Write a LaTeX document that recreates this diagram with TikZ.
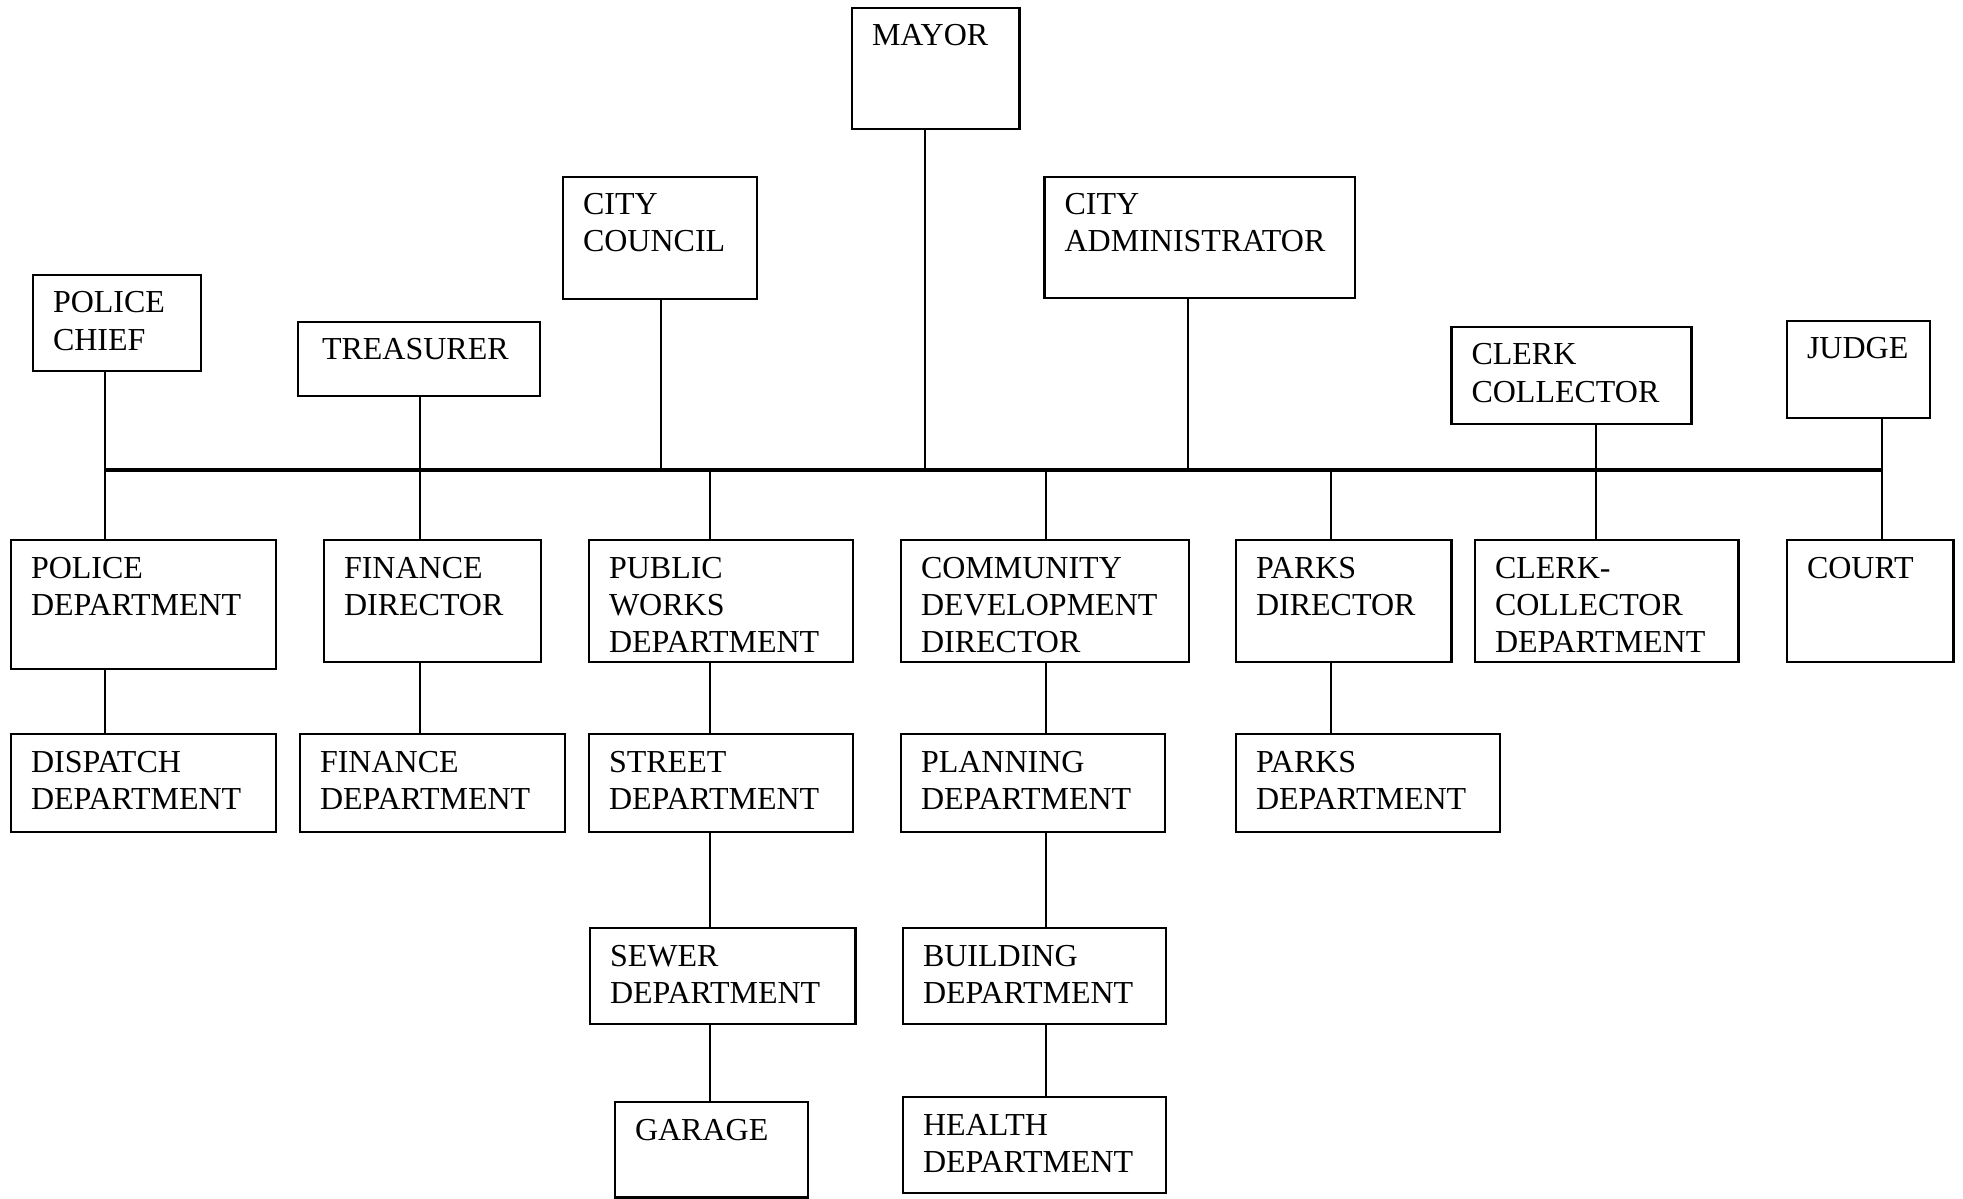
\documentclass[tikz,border=0pt]{standalone}
\usepackage{fontspec}
\setmainfont{Liberation Serif}
\newdimen\pxu \pxu=0.5bp
\tikzset{
  orgbox/.style={draw, line width=1.4bp, anchor=north west, inner xsep=10bp, inner ysep=0pt, outer sep=0pt,
    font=\fontsize{16bp}{18.5bp}\selectfont},
  link/.style={line width=0.9bp},
  busline/.style={line width=1.7bp}
}
% name, left, top, width, height (pixels), text
\newcommand{\obox}[6]{\node[orgbox] (#1) at (#2,#3) {\parbox[c][#5\pxu][t]{\dimexpr#4\pxu-20bp\relax}{\raggedright\rule{0pt}{19bp}#6}};}
\begin{document}
\begin{tikzpicture}[x=0.5bp, y=-0.5bp]
\useasboundingbox (0,0) rectangle (1963,1199);

\obox{mayor}{852}{8}{167.5}{121}{MAYOR}
\obox{council}{563}{177}{194}{122}{CITY\\COUNCIL}
\obox{admin}{1044.6}{177}{310.4}{121}{CITY\\ADMINISTRATOR}
\obox{pchief}{33}{275}{168}{96}{POLICE\\CHIEF}
\obox{treas}{298}{322}{242}{74}{\hspace{2bp}TREASURER}
\obox{clerkc}{1451.5}{327}{240}{97}{CLERK\\COLLECTOR}
\obox{judge}{1787}{321}{143}{97}{JUDGE}

\obox{poldept}{11}{540}{265}{129}{POLICE\\DEPARTMENT}
\obox{findir}{324}{540}{217}{122}{FINANCE\\DIRECTOR}
\obox{pubworks}{589}{540}{264}{122}{PUBLIC\\WORKS\\DEPARTMENT}
\obox{commdev}{901}{540}{288}{122}{COMMUNITY\\DEVELOPMENT\\DIRECTOR}
\obox{parksdir}{1236}{540}{215.5}{122}{PARKS\\DIRECTOR}
\obox{clerkdept}{1475}{540}{263.6}{122}{CLERK-\\COLLECTOR\\DEPARTMENT}
\obox{court}{1787}{540}{166.7}{122}{COURT}

\obox{dispatch}{11}{734}{265}{98}{DISPATCH\\DEPARTMENT}
\obox{findept}{300}{734}{265}{98}{FINANCE\\DEPARTMENT}
\obox{street}{589}{734}{264}{98}{STREET\\DEPARTMENT}
\obox{planning}{901}{734}{264}{98}{PLANNING\\DEPARTMENT}
\obox{parksdept}{1236}{734}{264}{98}{PARKS\\DEPARTMENT}

\obox{sewer}{590}{928}{265.6}{96}{SEWER\\DEPARTMENT}
\obox{building}{903}{928}{263}{96}{BUILDING\\DEPARTMENT}
\obox{garage}{615}{1102}{193}{95.5}{GARAGE}
\obox{health}{903}{1097}{263}{96}{HEALTH\\DEPARTMENT}

\coordinate (xpol) at (105,0);
\coordinate (xfin) at (420,0);
\coordinate (xcou) at (661,0);
\coordinate (xmay) at (925,0);
\coordinate (xpw) at (710,0);
\coordinate (xcd) at (1046,0);
\coordinate (xadm) at (1188,0);
\coordinate (xpk) at (1331,0);
\coordinate (xclk) at (1596,0);
\coordinate (xjud) at (1882,0);
\coordinate (busL) at (105,470);
\coordinate (busR) at (1882,470);

\draw[busline] (busL) -- (busR);

\draw[link] (pchief.south -| xpol) -- (poldept.north -| xpol);
\draw[link] (poldept.south -| xpol) -- (dispatch.north -| xpol);
\draw[link] (treas.south -| xfin) -- (findir.north -| xfin);
\draw[link] (findir.south -| xfin) -- (findept.north -| xfin);
\draw[link] (council.south -| xcou) -- (busL -| xcou);
\draw[link] (mayor.south -| xmay) -- (busL -| xmay);
\draw[link] (admin.south -| xadm) -- (busL -| xadm);
\draw[link] (busL -| xpw) -- (pubworks.north -| xpw);
\draw[link] (pubworks.south -| xpw) -- (street.north -| xpw);
\draw[link] (street.south -| xpw) -- (sewer.north -| xpw);
\draw[link] (sewer.south -| xpw) -- (garage.north -| xpw);
\draw[link] (busL -| xcd) -- (commdev.north -| xcd);
\draw[link] (commdev.south -| xcd) -- (planning.north -| xcd);
\draw[link] (planning.south -| xcd) -- (building.north -| xcd);
\draw[link] (building.south -| xcd) -- (health.north -| xcd);
\draw[link] (busL -| xpk) -- (parksdir.north -| xpk);
\draw[link] (parksdir.south -| xpk) -- (parksdept.north -| xpk);
\draw[link] (clerkc.south -| xclk) -- (clerkdept.north -| xclk);
\draw[link] (judge.south -| xjud) -- (court.north -| xjud);
\end{tikzpicture}
\end{document}
